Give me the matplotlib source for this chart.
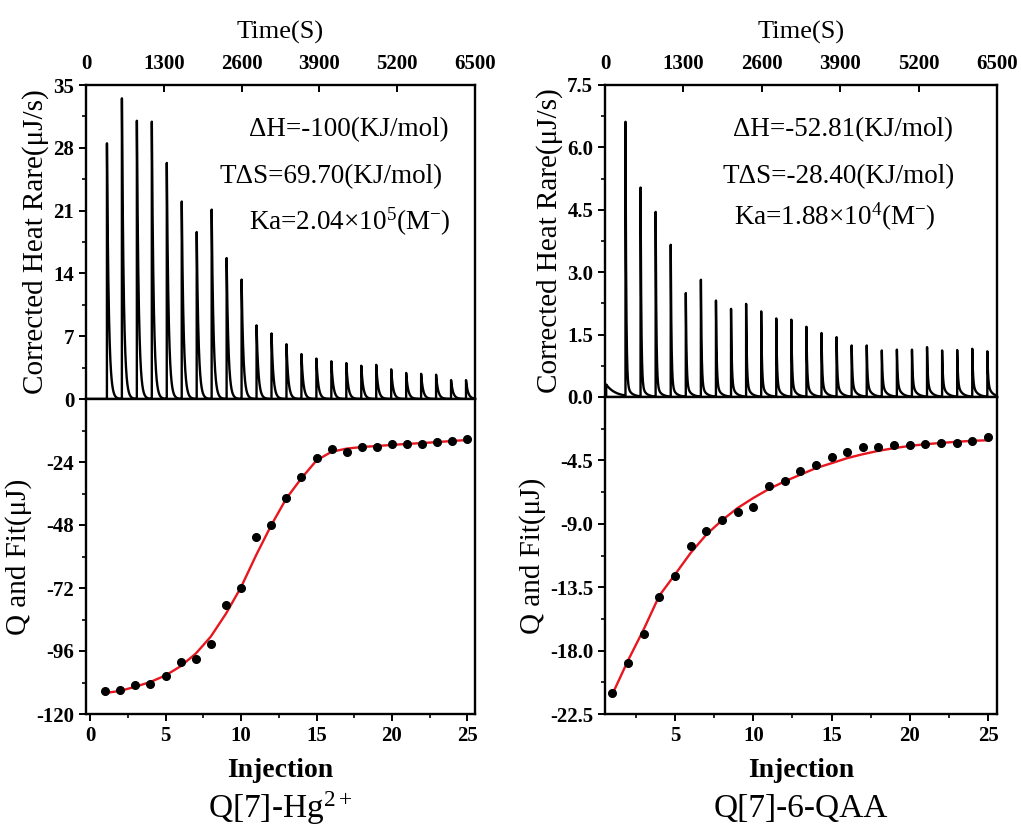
"""
ITC 滴定結果（Q[7]-Hg2+ / Q[7]-6-QAA）の再現。
上段: 熱流サーモグラム、下段: 積分熱量とフィット曲線。
"""

import numpy as np
import matplotlib
matplotlib.use("Agg")
import matplotlib.pyplot as plt
from matplotlib.ticker import MultipleLocator

plt.rcParams["font.family"] = ["Liberation Serif", "DejaVu Serif"]
plt.rcParams["mathtext.fontset"] = "custom"
plt.rcParams["mathtext.rm"] = "Liberation Serif"
plt.rcParams["mathtext.it"] = "Liberation Serif:italic"
plt.rcParams["mathtext.bf"] = "Liberation Serif:bold"
plt.rcParams["axes.unicode_minus"] = False

# ── データ: Q[7]-Hg2+ ─────────────────────────────────────────────────────────
INJECTION = np.arange(1, 26)

HG_TIMES = [350, 600, 850, 1100, 1350, 1600, 1850, 2100, 2350, 2600, 2850, 3100, 3350,
            3600, 3850, 4100, 4350, 4600, 4850, 5100, 5350, 5600, 5850, 6100, 6350]
HG_PEAKS = [28.5, 33.5, 31.0, 30.9, 26.3, 22.0, 18.6, 21.1, 15.7, 13.3, 8.2, 7.3, 6.1,
            5.0, 4.5, 4.2, 4.0, 3.7, 3.8, 3.3, 2.9, 2.8, 2.7, 2.1, 2.1]
HG_Q = [-111.4, -110.9, -109.0, -108.4, -105.7, -100.1, -99.1, -93.4, -78.3, -72.0,
        -52.6, -48.1, -37.6, -29.9, -22.3, -19.2, -20.1, -18.2, -18.2, -17.3,
        -17.2, -17.2, -16.3, -15.9, -15.4]
HG_FIT = [-112.0, -111.2, -109.6, -107.8, -105.3, -101.8, -97.0, -90.5, -81.8, -71.7,
          -59.5, -48.1, -37.9, -30.2, -23.4, -20.1, -18.9, -18.3, -17.9, -17.5,
          -17.1, -16.8, -16.4, -16.0, -15.6]
HG_TEXT = ["ΔH=-100(KJ/mol)", "TΔS=69.70(KJ/mol)", r"Ka=2.04×10$^{5}$(M$^{-}$)"]

# ── データ: Q[7]-6-QAA ────────────────────────────────────────────────────────
QAA_TIMES = [340, 590, 840, 1090, 1340, 1590, 1840, 2090, 2340, 2590, 2840, 3090, 3340,
             3590, 3840, 4090, 4340, 4590, 4840, 5090, 5340, 5590, 5840, 6090, 6340]
QAA_PEAKS = [6.58, 5.02, 4.44, 3.65, 2.49, 2.81, 2.31, 2.11, 2.23, 2.05, 1.88, 1.85, 1.68,
             1.53, 1.43, 1.23, 1.23, 1.11, 1.13, 1.13, 1.19, 1.11, 1.12, 1.15, 1.09]
QAA_PRE = (20, 0.3)   # 初回の小さな予備注入 (time, height)
QAA_Q = [-21.0, -18.85, -16.8, -14.2, -12.7, -10.55, -9.5, -8.7, -8.16, -7.78,
         -6.35, -5.99, -5.24, -4.86, -4.29, -3.92, -3.56, -3.56, -3.44, -3.44,
         -3.33, -3.30, -3.28, -3.14, -2.85]
QAA_FIT = [-21.1, -18.7, -16.5, -14.1, -12.6, -11.07, -9.77, -8.75, -7.88, -7.17,
           -6.53, -5.99, -5.52, -5.05, -4.70, -4.34, -4.06, -3.82, -3.63, -3.47,
           -3.35, -3.26, -3.18, -3.11, -3.07]
QAA_TEXT = ["ΔH=-52.81(KJ/mol)", "TΔS=-28.40(KJ/mol)", r"Ka=1.88×10$^{4}$(M$^{-}$)"]

W, H = 1021, 827


def _thermogram(t, times, heights, tau, tail_h=0.0, tail_tau=1.0):
    """注入ごとの急峻な立ち上がり + 指数減衰でトレースを描く。"""
    y = np.zeros_like(t)
    for t0, h in zip(times, heights):
        dt = t - t0
        m = dt >= 0
        y[m] += (h - tail_h) * np.exp(-dt[m] / tau) + tail_h * np.exp(-dt[m] / tail_tau)
    return y


def _px_axes(fig, x0, x1, y0, y1):
    return fig.add_axes([x0 / W, 1 - y1 / H, (x1 - x0) / W, (y1 - y0) / H])


def _style(ax):
    for s in ax.spines.values():
        s.set_linewidth(1.7)
    ax.tick_params(width=1.4, length=5, labelsize=15)
    ax.tick_params(which="minor", width=1.2, length=3)
    for lbl in ax.get_xticklabels() + ax.get_yticklabels():
        lbl.set_fontweight("bold")


def _panel(fig, xs, ymid, top_trace, peak_max, ystep, q, fit, qmin, qstep, xlim, texts, text_pos, title):
    x0, x1 = xs
    ax_t = _px_axes(fig, x0, x1, 85, ymid)
    ax_b = _px_axes(fig, x0, x1, ymid, 714)

    # 上段: サーモグラム
    t, y = top_trace
    ax_t.plot(t, y, color="black", lw=1.7)
    ax_t.set_xlim(0, 6500)
    ax_t.set_ylim(0, peak_max)
    ax_t.xaxis.tick_top()
    ax_t.xaxis.set_label_position("top")
    ax_t.set_xticks(np.arange(0, 6501, 1300))
    ax_t.tick_params(axis="x", direction="in", pad=8)
    ax_t.yaxis.set_major_locator(MultipleLocator(ystep))
    ax_t.yaxis.set_minor_locator(MultipleLocator(ystep / 2))
    ax_t.set_xlabel("Time(S)", fontsize=19, labelpad=11)
    ax_t.set_ylabel("Corrected Heat Rare(μJ/s)", fontsize=21, labelpad=3)
    ax_t.tick_params(axis="y", which="both", direction="out")
    _style(ax_t)
    for s, (tx, ty) in zip(texts, text_pos):
        ax_t.text(tx, ty, s, transform=ax_t.transAxes, ha="center", va="center", fontsize=19.5)

    # 下段: 積分熱量 + フィット
    ax_b.plot(INJECTION, fit, color="#e8161e", lw=1.7, zorder=2)
    ax_b.plot(INJECTION, q, "o", color="black", ms=5.5, zorder=3)
    ax_b.set_xlim(*xlim)
    ax_b.set_ylim(qmin, 0)
    ax_b.xaxis.set_major_locator(MultipleLocator(5))
    ax_b.xaxis.set_minor_locator(MultipleLocator(2.5))
    ax_b.yaxis.set_major_locator(MultipleLocator(qstep))
    ax_b.yaxis.set_minor_locator(MultipleLocator(qstep / 2))
    ax_b.set_yticks(np.arange(qmin, -qstep / 2, qstep))
    ax_b.tick_params(which="both", direction="out")
    ax_b.set_xlabel("Injection", fontsize=20, fontweight="bold", labelpad=9)
    ax_b.set_ylabel("Q and Fit(μJ)", fontsize=21, labelpad=3)
    _style(ax_b)
    ax_b.text(0.5, -0.30, title, transform=ax_b.transAxes, ha="center", va="center", fontsize=24)
    return ax_t, ax_b


if __name__ == "__main__":
    fig = plt.figure(figsize=(W / 100, H / 100), dpi=100)

    t = np.linspace(0, 6500, 13001)
    hg_trace = _thermogram(t, HG_TIMES, HG_PEAKS, tau=30.0, tail_h=0.4, tail_tau=60.0)
    qaa_trace = _thermogram(t, QAA_TIMES, QAA_PEAKS, tau=12.0, tail_h=0.3, tail_tau=70.0)
    qaa_trace += _thermogram(t, [QAA_PRE[0]], [QAA_PRE[1]], tau=150.0)

    _panel(fig, (86, 475), 399, (t, hg_trace), 35, 7, HG_Q, HG_FIT, -120, 24,
           (-0.27, 25.5), HG_TEXT, [(0.676, 0.857), (0.630, 0.707), (0.679, 0.564)],
           r"Q[7]-Hg$^{2+}$")
    _panel(fig, (605, 997), 397, (t, qaa_trace), 7.5, 1.5, QAA_Q, QAA_FIT, -22.5, 4.5,
           (0.53, 25.57), QAA_TEXT, [(0.607, 0.856), (0.597, 0.705), (0.587, 0.577)],
           "Q[7]-6-QAA")

    fig.savefig("out.png", dpi=100)
